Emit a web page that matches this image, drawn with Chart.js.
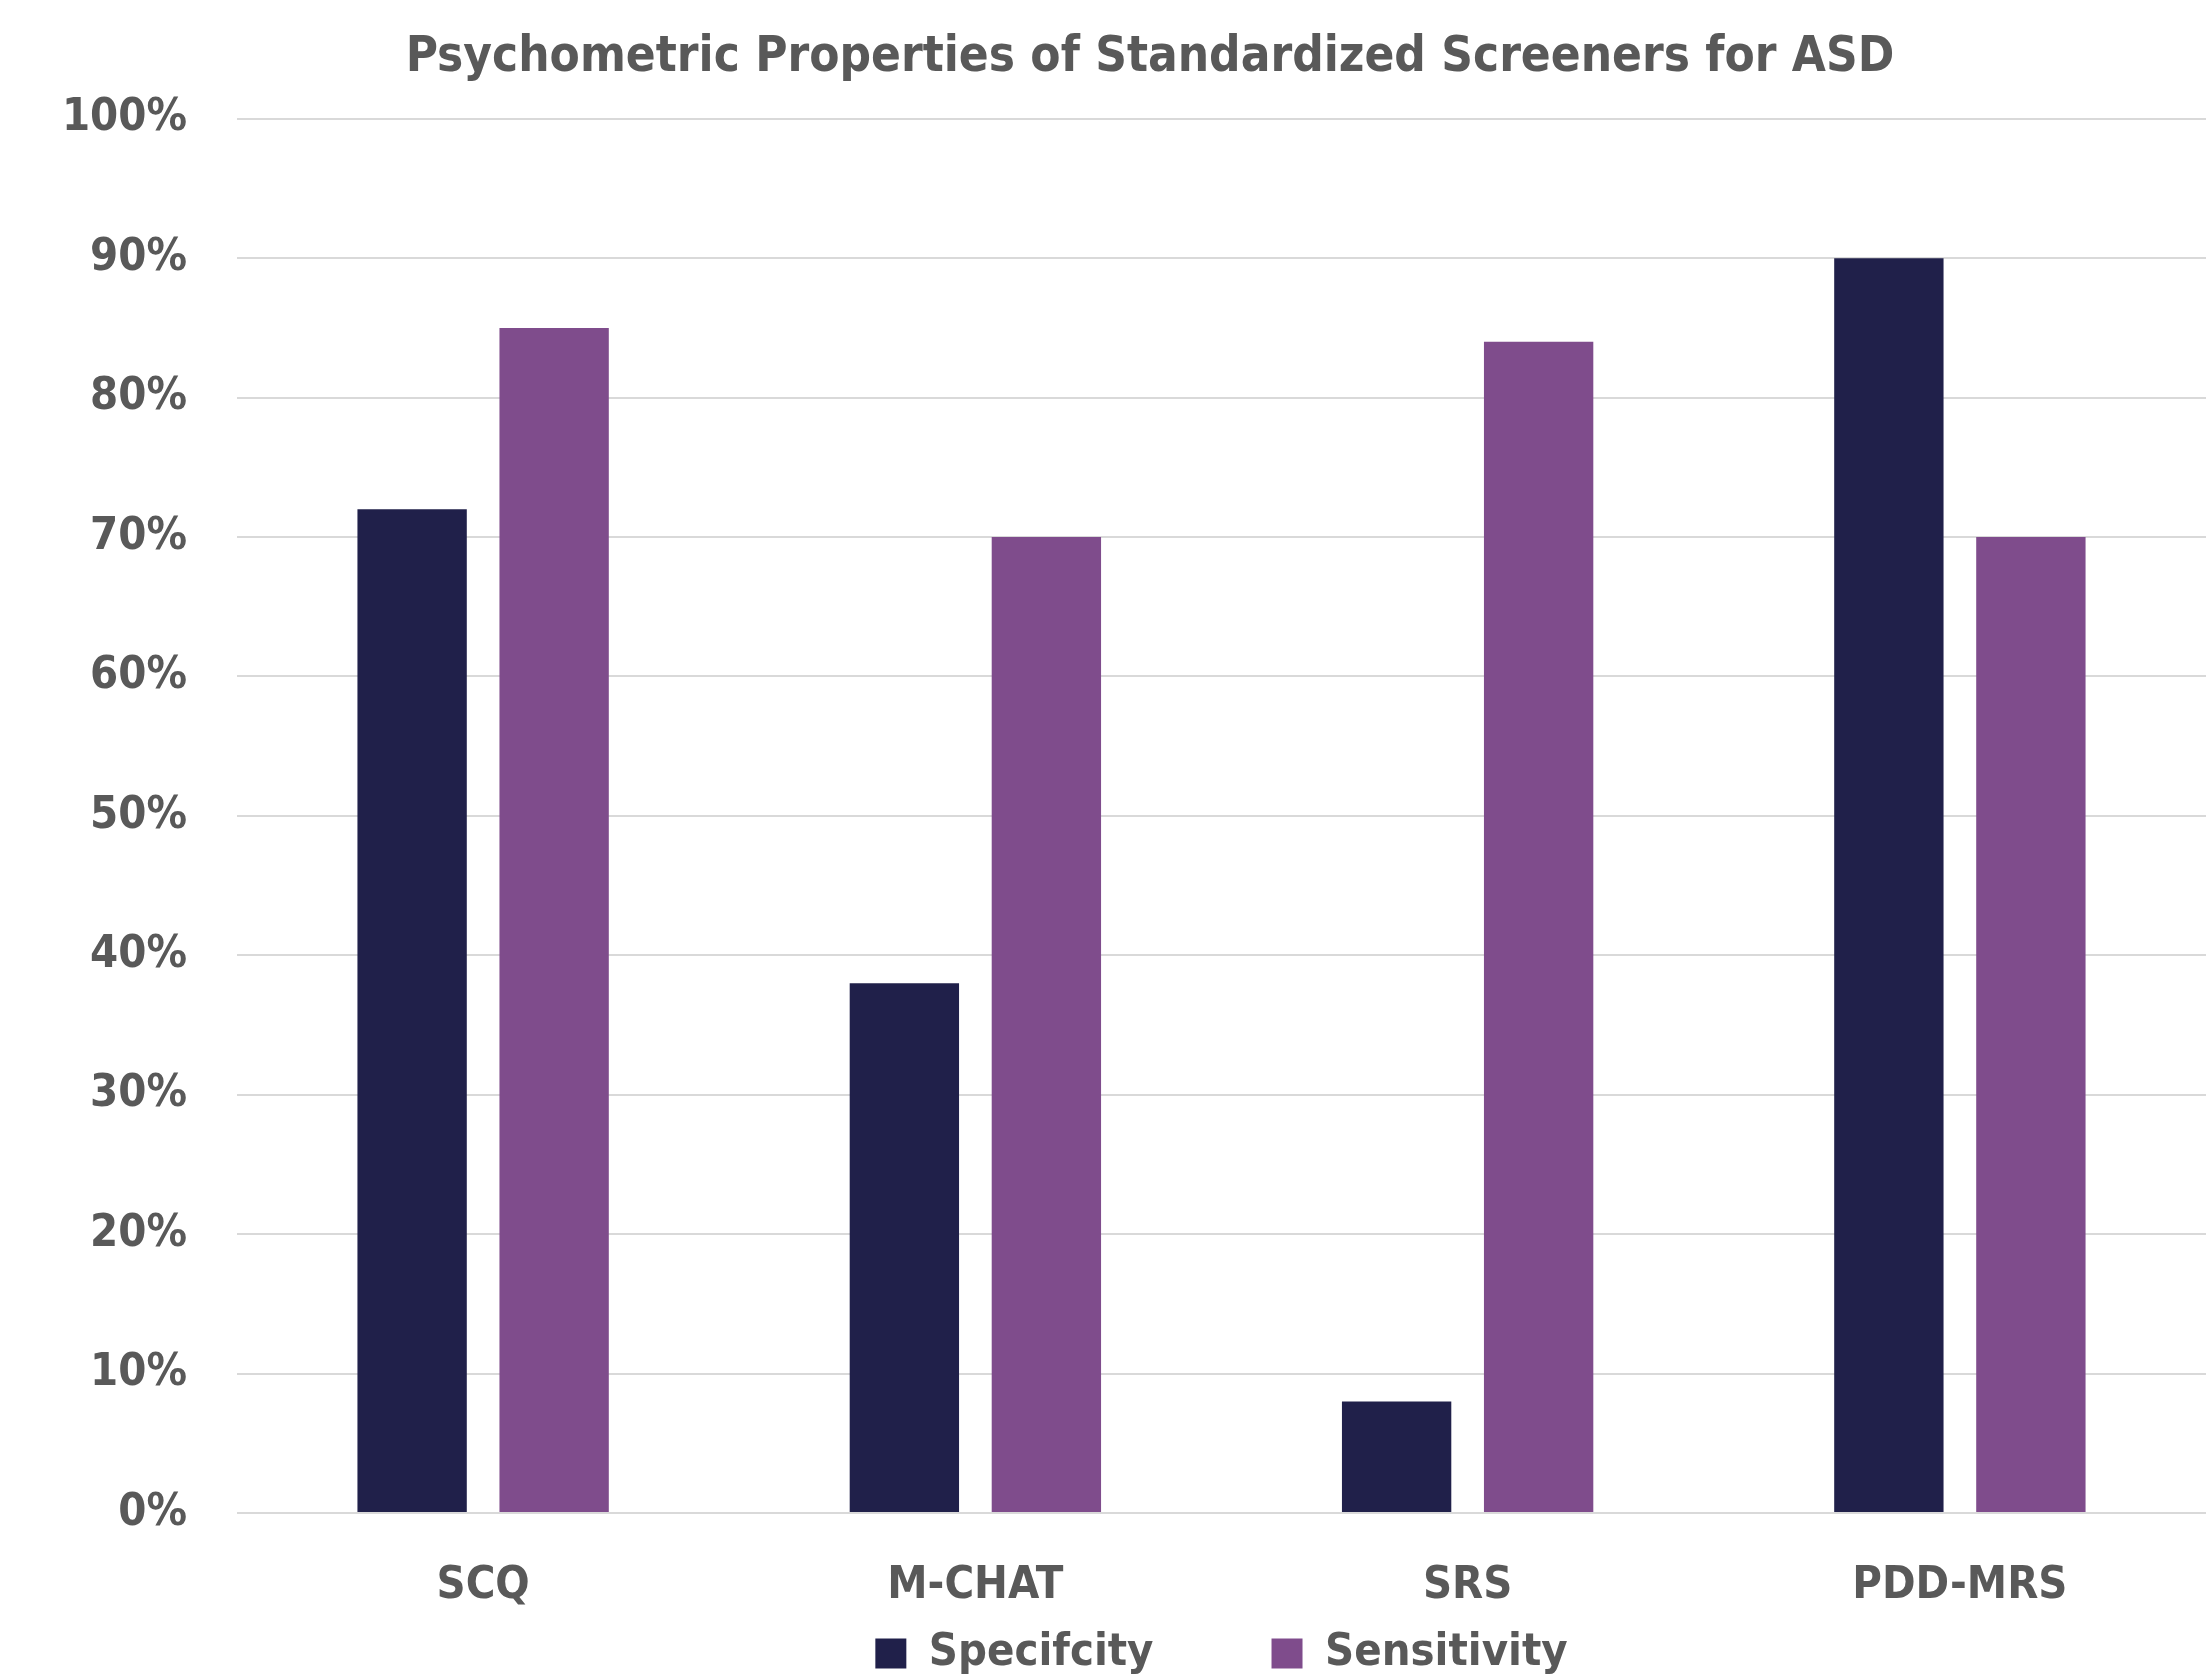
<!DOCTYPE html>
<html>
<head>
<meta charset="utf-8">
<script src="https://cdn.jsdelivr.net/npm/chart.js@4/dist/chart.umd.min.js"></script>
<style>
html,body{margin:0;padding:0;background:#fff;}
#wrap{width:2206px;height:1674px;position:relative;}
</style>
</head>
<body>
<div id="wrap"><canvas id="c" width="2206" height="1674"></canvas></div>
<script>
const categories = ['SCQ', 'M-CHAT', 'SRS', 'PDD-MRS'];
const specificity = [72, 38, 8, 90];
const sensitivity = [85, 70, 84, 70];
const seriesNames = ['Specifcity', 'Sensitivity'];
const yTicks = [0, 10, 20, 30, 40, 50, 60, 70, 80, 90, 100];
const titleText = 'Psychometric Properties of Standardized Screeners for ASD';

const FONT = "'Liberation Sans Narrow', 'DejaVu Sans Condensed', 'Arial Narrow', sans-serif";
const TEXT = '#595959';

// shift the title block slightly right (as in the reference)
const titleShift = {
  id: 'titleShift',
  afterLayout(chart) {
    const t = chart.titleBlock;
    if (t) { t.left += 47; t.right += 47; }
  }
};

new Chart(document.getElementById('c'), {
  type: 'bar',
  data: {
    labels: categories,
    datasets: [
      { label: seriesNames[0], data: specificity, backgroundColor: '#20204a', borderWidth: 0 },
      { label: seriesNames[1], data: sensitivity, backgroundColor: '#7f4c8c', borderWidth: 0 }
    ]
  },
  plugins: [titleShift],
  options: {
    responsive: false,
    animation: false,
    devicePixelRatio: 1,
    layout: { padding: 0 },
    datasets: { bar: { categoryPercentage: 0.577, barPercentage: 0.77 } },
    scales: {
      x: {
        grid: { display: false, drawTicks: false },
        border: { display: false },
        ticks: { color: TEXT, font: { family: FONT, size: 45, weight: 'bold' }, padding: 46 },
        afterFit: (s) => { s.height = 0; s._computeLabelArea = () => null; }
      },
      y: {
        min: 0, max: 100,
        afterBuildTicks: (s) => { s.ticks = yTicks.map(v => ({ value: v })); },
        grid: { color: '#d9d9d9', lineWidth: 2, drawTicks: false },
        border: { display: false },
        ticks: { color: TEXT, font: { family: FONT, size: 45, weight: 'bold' }, padding: 50, callback: (v) => v + '%' },
        afterFit: (s) => { s.width = 237; }
      }
    },
    plugins: {
      title: {
        display: true, text: titleText, color: TEXT,
        font: { family: FONT, size: 49, weight: 'bold', lineHeight: 1.2 },
        padding: { top: 29, bottom: 31 }
      },
      legend: {
        position: 'bottom', fullSize: false, maxHeight: 161,
        labels: { color: TEXT, font: { family: FONT, size: 45, weight: 'bold' }, boxWidth: 31, boxHeight: 30, padding: 118 }
      },
      tooltip: { enabled: false }
    }
  }
});
</script>
</body>
</html>
